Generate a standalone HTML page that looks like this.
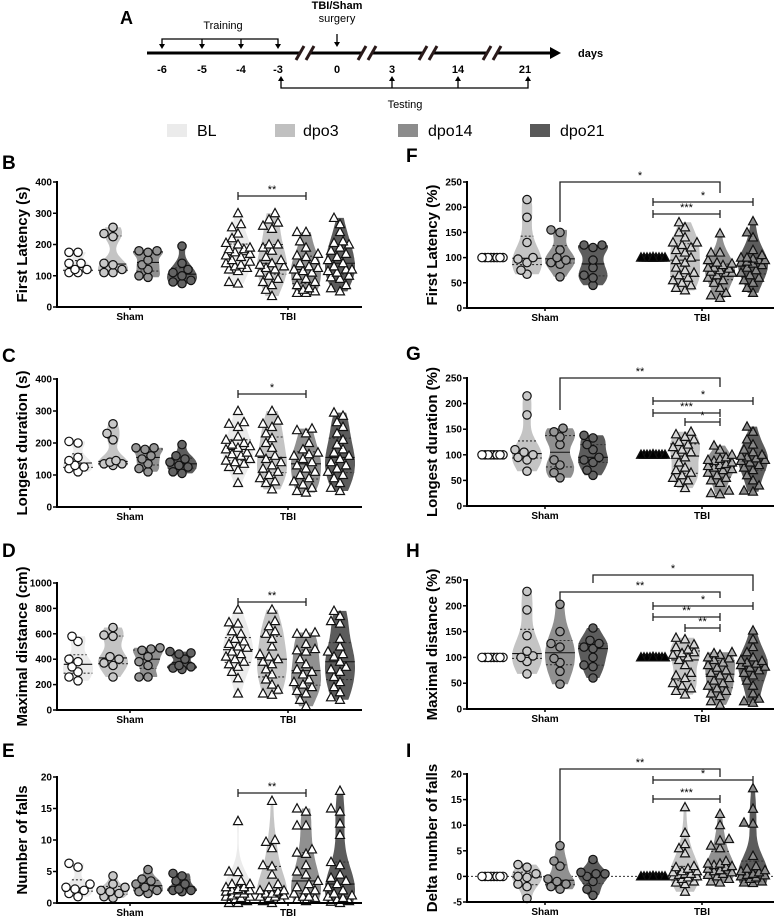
<!DOCTYPE html>
<html><head><meta charset="utf-8">
<style>
html,body{margin:0;padding:0;background:#fff;}
svg{display:block;font-family:"Liberation Sans",Arial,sans-serif;}
</style></head>
<body>
<svg id="fig" width="777" height="918" viewBox="0 0 777 918" xmlns="http://www.w3.org/2000/svg">
<g id="timeline">
  <text x="120" y="24" font-size="18" font-weight="bold">A</text>
  <line x1="147" y1="53" x2="552" y2="53" stroke="#000" stroke-width="3"/>
  <polygon points="550,47 561,53 550,59" fill="#000"/>
  <text x="578" y="57" font-size="11" font-weight="bold">days</text>
  <g font-size="11" font-weight="bold" text-anchor="middle">
    <text x="162" y="73">-6</text><text x="202" y="73">-5</text><text x="241" y="73">-4</text><text x="278" y="73">-3</text>
    <text x="337" y="73">0</text><text x="392" y="73">3</text><text x="458" y="73">14</text><text x="525" y="73">21</text>
  </g>
  <g>
    <g transform="translate(305,53)"><rect x="-6" y="-3" width="12" height="6" fill="#fff"/><line x1="-9" y1="7" x2="-1" y2="-7" stroke="#2a1a1a" stroke-width="3"/><line x1="1" y1="7" x2="9" y2="-7" stroke="#2a1a1a" stroke-width="3"/></g>
    <g transform="translate(367,53)"><rect x="-6" y="-3" width="12" height="6" fill="#fff"/><line x1="-9" y1="7" x2="-1" y2="-7" stroke="#2a1a1a" stroke-width="3"/><line x1="1" y1="7" x2="9" y2="-7" stroke="#2a1a1a" stroke-width="3"/></g>
    <g transform="translate(428,53)"><rect x="-6" y="-3" width="12" height="6" fill="#fff"/><line x1="-9" y1="7" x2="-1" y2="-7" stroke="#2a1a1a" stroke-width="3"/><line x1="1" y1="7" x2="9" y2="-7" stroke="#2a1a1a" stroke-width="3"/></g>
    <g transform="translate(492,53)"><rect x="-6" y="-3" width="12" height="6" fill="#fff"/><line x1="-9" y1="7" x2="-1" y2="-7" stroke="#2a1a1a" stroke-width="3"/><line x1="1" y1="7" x2="9" y2="-7" stroke="#2a1a1a" stroke-width="3"/></g>
  </g>
  <g stroke="#000" stroke-width="1.3" fill="none">
    <polyline points="162,45 162,39 278,39 278,45"/>
    <line x1="202" y1="39" x2="202" y2="45"/><line x1="241" y1="39" x2="241" y2="45"/>
  </g>
  <g fill="#000">
    <polygon points="159,44 165,44 162,49"/><polygon points="199,44 205,44 202,49"/><polygon points="238,44 244,44 241,49"/><polygon points="275,44 281,44 278,49"/>
  </g>
  <text x="223" y="29" font-size="11" text-anchor="middle">Training</text>
  <text x="337" y="9" font-size="11" font-weight="bold" text-anchor="middle">TBI/Sham</text>
  <text x="337" y="22" font-size="11" text-anchor="middle">surgery</text>
  <line x1="337" y1="34" x2="337" y2="43" stroke="#000" stroke-width="1.3"/>
  <polygon points="334,42 340,42 337,47" fill="#000"/>
  <g stroke="#000" stroke-width="1.3" fill="none">
    <polyline points="281,80 281,88 528,88 528,80"/>
    <line x1="392" y1="88" x2="392" y2="80"/><line x1="458" y1="88" x2="458" y2="80"/>
  </g>
  <g fill="#000">
    <polygon points="278,81 284,81 281,76"/><polygon points="389,81 395,81 392,76"/><polygon points="455,81 461,81 458,76"/><polygon points="525,81 531,81 528,76"/>
  </g>
  <text x="405" y="108" font-size="11" text-anchor="middle">Testing</text>
</g>
<g id="legend" font-size="16">
  <rect x="167" y="124" width="20" height="13" fill="#ebebeb"/>
  <text x="197" y="136">BL</text>
  <rect x="275" y="124" width="20" height="13" fill="#c0c0c0"/>
  <text x="303" y="136">dpo3</text>
  <rect x="398" y="124" width="20" height="13" fill="#8c8c8c"/>
  <text x="428" y="136">dpo14</text>
  <rect x="530" y="124" width="20" height="13" fill="#595959"/>
  <text x="560" y="136">dpo21</text>
</g>
</svg>
<script>
// ---------- data (group order: Sham BL, dpo3, dpo14, dpo21, TBI BL, dpo3, dpo14, dpo21) ----------
const groupNames = ['sham-bl','sham-dpo3','sham-dpo14','sham-dpo21','tbi-bl','tbi-dpo3','tbi-dpo14','tbi-dpo21'];
const ticksB = [0,100,200,300,400];
const ticksC = [0,100,200,300,400];
const ticksD = [0,200,400,600,800,1000];
const ticksE = [0,5,10,15,20];
const ticksPct = [0,50,100,150,200,250];
const ticksI = [-5,0,5,10,15,20];
const hundred8 = [100,100,100,100,100,100,100,100];
const hundred24 = [100,100,100,100,100,100,100,100,100,100,100,100,100,100,100,100,100,100,100,100,100,100,100,100];
const zero8 = [0,0,0,0,0,0,0,0];
const zero24 = [0,0,0,0,0,0,0,0,0,0,0,0,0,0,0,0,0,0,0,0,0,0,0,0];

const dataB = [
 [175,175,140,140,120,110,110,120],
 [255,235,225,140,135,120,110,110],
 [180,180,175,150,135,120,100,95],
 [195,140,120,110,100,85,80,75],
 [300,265,255,235,220,205,190,185,175,165,160,150,145,140,135,130,125,120,115,80,75,185,200,170],
 [300,280,270,250,200,190,180,160,150,140,130,125,120,110,100,90,80,70,55,35,135,200,260],
 [240,240,210,190,170,160,150,140,130,120,115,110,100,90,80,70,60,55,50,45,45,125,165],
 [285,265,240,210,205,200,190,180,170,160,150,140,130,120,115,110,100,95,90,70,60,50,120]];
const dataC = [
 [205,200,155,145,130,125,110,120],
 [260,230,210,145,140,135,135,130],
 [185,185,180,160,150,135,120,110],
 [195,160,150,140,130,125,110,105],
 [300,265,260,250,220,210,200,195,190,185,180,170,165,160,150,145,140,135,125,115,75],
 [300,270,260,250,230,215,200,185,170,160,150,140,130,120,110,100,90,80,75,55],
 [245,240,230,200,180,170,165,160,150,140,130,120,110,100,90,80,70,60,50,45],
 [295,285,265,250,230,210,195,180,170,160,150,140,130,120,110,100,90,75,60,50]];
const dataD = [
 [580,540,400,380,340,300,260,230],
 [650,590,580,420,400,370,350,260],
 [490,480,470,420,380,350,260,260],
 [460,450,440,400,350,340,330,320],
 [790,690,680,620,600,560,540,520,500,490,460,440,420,400,380,360,340,300,250,130],
 [790,700,660,620,600,560,500,440,400,360,320,280,240,200,160,130,120,380,420],
 [610,600,600,520,480,470,460,400,360,320,280,240,200,180,150,130,80,30,220,300],
 [780,740,700,680,560,500,460,440,420,380,340,320,300,260,220,180,140,100,80]];
const dataE = [
 [6.3,5.7,3,2.5,2.2,2,1.5,1],
 [4.3,3,2.5,2,1.8,1.5,1,0.8],
 [5.3,3.8,3.5,3,2.5,2,1.8,1.5],
 [4.7,4.3,3.5,3,2.2,2,2,1.8],
 [13,5,4.9,3.5,3,3,2.5,2.2,2,2,1.8,1.5,1.5,1.2,1,1,0.8,0.5,0.3,0,0,2,2.5],
 [16.2,10,9.7,8.7,6,5.8,4.5,3,2.5,2,1.8,1.5,1.2,1,0.8,0.5,0.3,0,1,2,1.5],
 [15,14.5,12.3,12.3,8.5,8,7.8,6,5,4.5,3.5,3,2.5,2,1.5,1,0.8,0.5,0.3,2,1],
 [17.8,15,14.5,12.6,10.8,6.5,6,4.5,4,3.5,3,2.5,2,1.5,1.2,1,0.8,0.5,0.3,0.2,0]];
const dataF = [
 hundred8,
 [215,180,130,100,97,90,75,67],
 [155,150,115,100,95,90,87,62],
 [125,125,120,95,80,65,60,45],
 hundred24,
 [170,160,150,130,130,125,120,115,110,100,95,90,80,75,70,65,60,55,50,45,40,35,140],
 [148,110,110,95,90,85,80,80,78,75,72,70,70,65,60,55,50,40,30,25,20,88],
 [172,150,140,115,105,100,98,95,95,92,90,88,85,80,75,70,65,60,55,50,40,30,100]];
const dataG = [
 hundred8,
 [215,178,110,105,100,95,90,68],
 [152,145,135,120,90,80,65,55],
 [138,133,120,110,95,90,85,70,60],
 hundred24,
 [145,140,135,130,120,115,110,105,100,95,85,75,70,65,60,55,50,45,35,125],
 [118,110,100,95,92,90,88,85,82,80,78,75,72,70,65,60,55,50,45,30,25,23],
 [155,145,130,120,110,105,100,98,95,93,90,88,85,80,75,70,60,50,40,30,28]];
const dataH = [
 hundred8,
 [228,192,142,112,103,100,92,68],
 [203,150,127,120,98,90,73,48],
 [157,133,127,120,117,100,85,82,60],
 hundred24,
 [138,135,120,115,110,108,105,100,95,85,70,65,60,50,45,40,35,28,125],
 [110,108,105,100,98,95,90,85,80,75,70,65,60,55,50,45,40,35,30,25,15,8],
 [152,135,120,110,100,95,93,90,88,85,82,80,75,70,65,55,45,30,20,15,12]];
const dataI = [
 zero8,
 [2.3,1.8,0.5,0,-0.2,-1.5,-2,-4.3],
 [6,3,2,-0.5,-1,-1.5,-2,-2.5],
 [3.3,0.8,0.5,0.5,0,-1,-2.5,-3.7],
 zero24,
 [13.5,8.5,6.3,5.5,4.5,2,1.8,1.5,1,0.8,0.5,0.3,0,0,-0.2,-0.5,-1,-1.2,-1.5,-3,0.5,1],
 [12.2,10,7.3,7,6,5.5,3,2.5,2.2,2,1.8,1.5,1.2,1,0.8,0.5,0.3,0,-0.5,-1,-1.2,2.5],
 [17.2,13.2,10.5,10.3,4,2,1.5,1.2,1,0.8,0.5,0.3,0,-0.2,-0.5,-1,-1.2,-1.3,0.2]];

// ---------- styling ----------
const violinFill = ['#ebebeb','#c4c4c4','#909090','#5c5c5c','#ebebeb','#c4c4c4','#909090','#5c5c5c'];
const leftMarkFill = ['#ffffff','#c8c8c8','#969696','#646464','#ffffff','#ffffff','#ffffff','#ffffff'];
const rightMarkFill = ['#ffffff','#c8c8c8','#969696','#646464','#000000','#d8d8d8','#b0b0b0','#8a8a8a'];
const LC = [78,113,148,182,238,272,306,340];
const RC = [494,527,560,593,653,685,720,753];

const NS = 'http://www.w3.org/2000/svg';
const svg = document.getElementById('fig');
function mk(tag, attrs, parent){
  const e = document.createElementNS(NS, tag);
  for (const k in attrs) e.setAttribute(k, attrs[k]);
  (parent||svg).appendChild(e);
  return e;
}
function quant(s, p){ const i=(s.length-1)*p, lo=Math.floor(i), hi=Math.ceil(i); return s[lo]+(s[hi]-s[lo])*(i-lo); }

function panel(c){
  const g = mk('g', {});
  
  
  const yScale = v => c.yBot - (v - c.ymin) / (c.ymax - c.ymin) * (c.yBot - c.yTop);
  const L = mk('text', {x:c.letterX, y:c.letterY, 'font-size':19, 'font-weight':'bold'}, g);
  L.textContent = c.id.toUpperCase();
  
  
  const cy = (c.yTop + c.yBot)/2;
  const T = mk('text', {x:c.titleX, y:cy, 'font-size':15, 'font-weight':'bold', 'text-anchor':'middle', transform:`rotate(-90 ${c.titleX} ${cy})`}, g);
  T.textContent = c.title;
  
  
  if (c.zeroLine){
    const z = mk('line', {x1:c.ax, x2:c.xEnd, y1:yScale(0), y2:yScale(0), stroke:'#333', 'stroke-width':1, 'stroke-dasharray':'2,2'}, g);
    
    
  }
  const r = 4.2;
  c.data.forEach((vals, gi) => {
    const cx = c.centers[gi];
    const gg = mk('g', {}, g);
    
    
    const s = vals.slice().sort((a,b)=>a-b);
    const mn = s[0], mx = s[s.length-1];
    const range = c.ymax - c.ymin;
    if (mx - mn > range*0.01){
      const bw = Math.max((mx-mn)*0.18, range*0.03);
      const N = 40, pts = [];
      let maxd = 0;
      for (let i=0;i<=N;i++){
        const v = mn + (mx-mn)*i/N;
        let d = 0; s.forEach(x => { const u=(v-x)/bw; d += Math.exp(-0.5*u*u); });
        pts.push([v,d]); maxd = Math.max(maxd,d);
      }
      const halfW = 15;
      const right = pts.map(p => `${(cx + p[1]/maxd*halfW).toFixed(1)},${yScale(p[0]).toFixed(1)}`);
      const left = pts.slice().reverse().map(p => `${(cx - p[1]/maxd*halfW).toFixed(1)},${yScale(p[0]).toFixed(1)}`);
      const V = mk('polygon', {points: right.concat(left).join(' '), fill: violinFill[gi]}, gg);
      
      
      const widthAt = v => { let d=0; s.forEach(x=>{const u=(v-x)/bw; d+=Math.exp(-0.5*u*u);}); return d/maxd*halfW; };
      [[0.5,'none','#111'],[0.25,'2,2','#333'],[0.75,'2,2','#333']].forEach(q => {
        const v = quant(s,q[0]), w = widthAt(v);
        const ln = mk('line', {x1:cx-w, x2:cx+w, y1:yScale(v), y2:yScale(v), stroke:q[2], 'stroke-width':1.1, 'stroke-dasharray':q[1]}, gg);
        
        
      });
    }
    const placed = [];
    const order = vals.map((v,i)=>i).sort((a,b)=>vals[a]-vals[b]);
    const cands = [0,-3,3,-6,6,-9,9,-12,12];
    const pos = [];
    order.forEach(i => {
      const py = yScale(vals[i]);
      let best = 0, bestD = -1;
      for (const o of cands){
        let md = 1e9;
        placed.forEach(p => { const d = Math.hypot(p[0]-o, p[1]-py); if (d<md) md=d; });
        if (md >= 2*r*0.85){ best = o; bestD = md; break; }
        if (md > bestD){ bestD = md; best = o; }
      }
      placed.push([best, py]);
      pos.push([cx+best, py]);
    });
    const fill = c.fills[gi];
    pos.forEach(p => {
      let m;
      if (gi < 4){
        m = mk('circle', {cx:p[0].toFixed(1), cy:p[1].toFixed(1), r:r, fill:fill, stroke:'#111', 'stroke-width':1.2}, gg);
      } else {
        const x=p[0], y=p[1];
        m = mk('polygon', {points:`${x},${y-4.8} ${x+4.5},${y+3.5} ${x-4.5},${y+3.5}`, fill:fill, stroke:'#111', 'stroke-width':1.2}, gg);
      }
      
      
    });
  });
  const ya = mk('line', {x1:c.ax, x2:c.ax, y1:c.yTop-1, y2:c.yBot+1, stroke:'#000', 'stroke-width':2}, g);
  
  
  const xa = mk('line', {x1:c.ax-1, x2:c.xEnd, y1:c.yBot, y2:c.yBot, stroke:'#000', 'stroke-width':2}, g);
  
  
  c.ticks.forEach(t => {
    const y = yScale(t);
    const tl = mk('line', {x1:c.ax-4, x2:c.ax, y1:y, y2:y, stroke:'#000', 'stroke-width':1.5}, g);
    
    
    const tt = mk('text', {x:c.ax-5, y:y+3.5, 'font-size':10, 'font-weight':'bold', 'text-anchor':'end'}, g);
    tt.textContent = t;
    
    
  });
  [['Sham',c.shamX],['TBI',c.tbiX]].forEach(a => {
    const tk = mk('line', {x1:a[1], x2:a[1], y1:c.yBot, y2:c.yBot+3, stroke:'#000', 'stroke-width':1.5}, g);
    
    
    const tx = mk('text', {x:a[1], y:c.yBot+13, 'font-size':10, 'font-weight':'bold', 'text-anchor':'middle'}, g);
    tx.textContent = a[0];
    
    
  });
  c.brackets.forEach(b => {
    const x1 = c.centers[b.g1], x2 = c.centers[b.g2];
    const br = mk('polyline', {points:`${x1},${b.y+b.d1} ${x1},${b.y} ${x2},${b.y} ${x2},${b.y+b.d2}`, fill:'none', stroke:'#222', 'stroke-width':1.3}, g);
    
    
    if (b.cap){
      const c1 = mk('line', {x1:x1, x2:x1, y1:b.y-4, y2:b.y+4, stroke:'#222', 'stroke-width':1.3}, g);
      
      
      const c2 = mk('line', {x1:x2, x2:x2, y1:b.y-4, y2:b.y+4, stroke:'#222', 'stroke-width':1.3}, g);
      
      
    }
    const st = mk('text', {x:(x1+x2)/2, y:b.y-3, 'font-size':11, 'text-anchor':'middle'}, g);
    st.textContent = b.t;
    
    
  });
}

const leftBase = {ax:57, xEnd:362, centers:LC, shamX:130, tbiX:288, titleX:27, letterX:2, fills:leftMarkFill};
const rightBase = {ax:467, xEnd:774, centers:RC, shamX:545, tbiX:702, titleX:437, letterX:406, fills:rightMarkFill};

panel(Object.assign({}, leftBase, {id:'b', title:'First Latency (s)', data:dataB, ticks:ticksB, ymin:0, ymax:400, yTop:182, yBot:307, letterY:169,
  brackets:[{g1:4,g2:6,y:196,d1:0,d2:0,cap:true,t:'**'}]}));
panel(Object.assign({}, leftBase, {id:'c', title:'Longest duration (s)', data:dataC, ticks:ticksC, ymin:0, ymax:400, yTop:379, yBot:507, letterY:362,
  brackets:[{g1:4,g2:6,y:394,d1:0,d2:0,cap:true,t:'*'}]}));
panel(Object.assign({}, leftBase, {id:'d', title:'Maximal distance (cm)', data:dataD, ticks:ticksD, ymin:0, ymax:1000, yTop:583, yBot:710, letterY:557,
  brackets:[{g1:4,g2:6,y:602,d1:0,d2:0,cap:true,t:'**'}]}));
panel(Object.assign({}, leftBase, {id:'e', title:'Number of falls', data:dataE, ticks:ticksE, ymin:0, ymax:20, yTop:777, yBot:903, letterY:757,
  brackets:[{g1:4,g2:6,y:793,d1:0,d2:0,cap:true,t:'**'}]}));

panel(Object.assign({}, rightBase, {id:'f', title:'First Latency (%)', data:dataF, ticks:ticksPct, ymin:0, ymax:250, yTop:182, yBot:308, letterY:162,
  brackets:[{g1:2,g2:6,y:182,d1:40,d2:11,t:'*'},{g1:4,g2:7,y:202,d1:0,d2:0,cap:true,t:'*'},{g1:4,g2:6,y:214,d1:0,d2:0,cap:true,t:'***'}]}));
panel(Object.assign({}, rightBase, {id:'g', title:'Longest duration (%)', data:dataG, ticks:ticksPct, ymin:0, ymax:250, yTop:378, yBot:506, letterY:360,
  brackets:[{g1:2,g2:6,y:378,d1:32,d2:9,t:'**'},{g1:4,g2:7,y:401,d1:0,d2:0,cap:true,t:'*'},{g1:4,g2:6,y:413,d1:0,d2:0,cap:true,t:'***'},{g1:5,g2:6,y:422,d1:0,d2:0,cap:true,t:'*'}]}));
panel(Object.assign({}, rightBase, {id:'h', title:'Maximal distance (%)', data:dataH, ticks:ticksPct, ymin:0, ymax:250, yTop:580, yBot:709, letterY:557,
  brackets:[{g1:3,g2:7,y:575,d1:8,d2:16,t:'*'},{g1:2,g2:6,y:592,d1:9,d2:6,t:'**'},{g1:4,g2:7,y:606,d1:0,d2:0,cap:true,t:'*'},{g1:4,g2:6,y:617,d1:0,d2:0,cap:true,t:'**'},{g1:5,g2:6,y:628,d1:0,d2:0,cap:true,t:'**'}]}));
panel(Object.assign({}, rightBase, {id:'i', title:'Delta number of falls', data:dataI, ticks:ticksI, ymin:-5, ymax:20, yTop:774, yBot:902, letterY:757, zeroLine:true,
  brackets:[{g1:2,g2:6,y:769,d1:73,d2:8,t:'**'},{g1:4,g2:7,y:780,d1:0,d2:0,cap:true,t:'*'},{g1:4,g2:6,y:799,d1:0,d2:0,cap:true,t:'***'}]}));
</script>
</body></html>
